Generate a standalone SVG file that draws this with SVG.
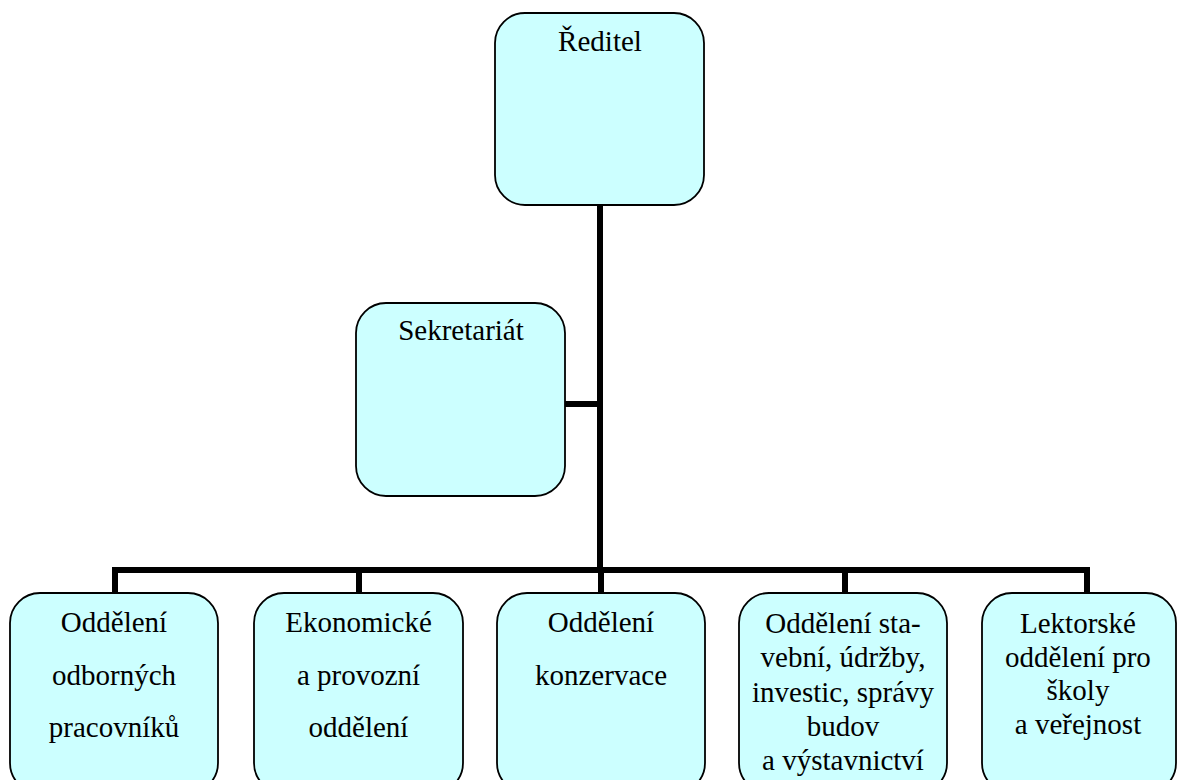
<svg xmlns="http://www.w3.org/2000/svg" width="1178" height="780" viewBox="0 0 1178 780">
<style>
.box{fill:#CCFFFF;stroke:#000;stroke-width:1.8}
.t{font-family:"Liberation Serif","Times New Roman",serif;font-size:29px;fill:#000;text-anchor:middle}
.c{fill:none;stroke:#000;stroke-width:6;stroke-linecap:square;stroke-linejoin:miter}
</style>
<rect width="1178" height="780" fill="#fff"/>
<g id="connectors">
<path class="c" d="M600 206 V570"/>
<path class="c" d="M566 404 H600"/>
<path class="c" d="M115 592 V570 H1087 V592"/>
<path class="c" d="M359 570 V592"/>
<path class="c" d="M601 570 V592"/>
<path class="c" d="M845 570 V592"/>
</g>
<g id="reditel">
<rect class="box" x="495" y="13" width="209" height="192" rx="30" ry="30"/>
<text class="t" x="600" y="51">Ředitel</text>
</g>
<g id="sekretariat">
<rect class="box" x="356" y="303" width="209" height="193" rx="30" ry="30"/>
<text class="t" x="461" y="340">Sekretariát</text>
</g>
<g id="odborni">
<rect class="box" x="10" y="593" width="208" height="200" rx="30" ry="30"/>
<text class="t" x="114" y="632">Oddělení</text>
<text class="t" x="114" y="684.5">odborných</text>
<text class="t" x="114" y="737">pracovníků</text>
</g>
<g id="ekonomicke">
<rect class="box" x="254" y="593" width="209" height="200" rx="30" ry="30"/>
<text class="t" x="358.5" y="632">Ekonomické</text>
<text class="t" x="358.5" y="684.5">a provozní</text>
<text class="t" x="358.5" y="737">oddělení</text>
</g>
<g id="konzervace">
<rect class="box" x="497" y="593" width="208" height="200" rx="30" ry="30"/>
<text class="t" x="601" y="632">Oddělení</text>
<text class="t" x="601" y="684.5">konzervace</text>
</g>
<g id="stavebni">
<rect class="box" x="739" y="593" width="208" height="200" rx="30" ry="30"/>
<text class="t" x="843" y="633">Oddělení sta-</text>
<text class="t" x="843" y="667.3">vební, údržby,</text>
<text class="t" x="843" y="701.6">investic, správy</text>
<text class="t" x="843" y="735.9">budov</text>
<text class="t" x="843" y="770.2">a výstavnictví</text>
</g>
<g id="lektorske">
<rect class="box" x="982" y="593" width="194" height="200" rx="30" ry="30"/>
<text class="t" x="1078" y="633">Lektorské</text>
<text class="t" x="1078" y="666.5">oddělení pro</text>
<text class="t" x="1078" y="700">školy</text>
<text class="t" x="1078" y="733.5">a veřejnost</text>
</g>
</svg>
